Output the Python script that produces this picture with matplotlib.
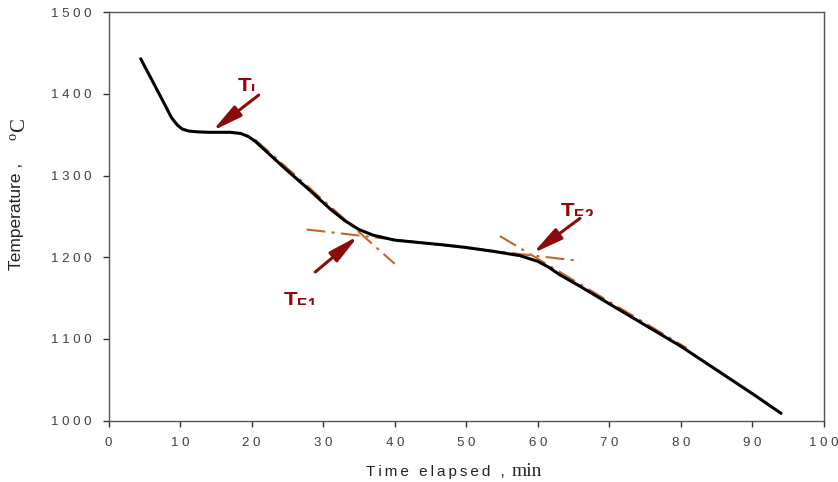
import matplotlib.pyplot as plt
from matplotlib.transforms import Bbox

plt.rcParams["mathtext.fontset"] = "custom"
plt.rcParams["mathtext.bf"] = "Liberation Sans:bold"
plt.rcParams["mathtext.rm"] = "Liberation Serif"

# cooling curve
time_min = [4.5, 6, 7.5, 8.8, 9.6, 10.3, 11.2, 12.5, 14, 17, 18.5, 19.5, 20.5, 22,
            25, 28, 31, 33, 35, 37, 40, 43.5, 47, 50, 54, 57.5, 60, 61.5, 63,
            66, 70, 75, 80, 85, 90, 94]
temp_c = [1443, 1418, 1393, 1371, 1362, 1357, 1354.5, 1353.5, 1353, 1353, 1351.5, 1348, 1342, 1330,
          1306, 1283, 1259, 1245, 1234, 1227, 1221, 1218, 1215, 1212, 1207, 1202, 1195, 1188, 1179,
          1164, 1143, 1117, 1091, 1062, 1033, 1009]

# tangent construction lines (start/end points)
plateau_x = [27.7, 65.9]
plateau_y = [1234, 1195.5]
steep1_x = [20.5, 40]
steep1_y = [1344, 1192]
steep2_x = [54.7, 80.8]
steep2_y = [1226, 1089]

xticks = list(range(0, 101, 10))
yticks = list(range(1000, 1501, 100))

line_col = "#c4662c"
arrow_col = "#8b0a0a"
tick_col = "#404040"

fig = plt.figure(figsize=(8.38, 4.82), dpi=100)
ax = fig.add_axes([0.1295, 0.1272, 0.8538, 0.8475])

dash = (0, (9, 3, 1.5, 3))
ax.plot(plateau_x, plateau_y, color=line_col, lw=1.5, linestyle=dash)
ax.plot(steep1_x, steep1_y, color=line_col, lw=1.5, linestyle=dash)
ax.plot(steep2_x, steep2_y, color=line_col, lw=1.5, linestyle=dash)
ax.plot(time_min, temp_c, color="black", lw=2.2, solid_capstyle="round")

ax.set_xlim(0, 100)
ax.set_ylim(1000, 1500)
ax.set_xticks(xticks)
ax.set_yticks(yticks)
ax.set_xticklabels([" ".join(str(v)) for v in xticks], family="Liberation Sans")
ax.set_yticklabels([" ".join(str(v)) for v in yticks], family="Liberation Sans")
ax.tick_params(direction="out", length=4.5, width=1, labelsize=9.5,
               labelcolor=tick_col, color="#333333")
ax.tick_params(axis="y", pad=8)
ax.tick_params(axis="x", pad=7)
for sp in ax.spines.values():
    sp.set_color("#555555")
    sp.set_linewidth(1)

# arrows and labels
arrows = [((21.0, 1398.6), (14.5, 1354.6)),
          ((28.9, 1182), (34.9, 1226)),
          ((65.9, 1247.7), (59.3, 1204.9))]
for start, tip in arrows:
    ax.annotate("", xy=tip, xytext=start,
                arrowprops=dict(arrowstyle="-|>,head_length=1.8,head_width=0.38",
                                color=arrow_col, lw=2.2, shrinkA=0, shrinkB=0))

labels = [(18.0, 1401, "L"), (24.4, 1139, "E1"), (63.1, 1248, "E2")]
for lx, ly, sub in labels:
    t = ax.text(lx, ly, r"$\mathbf{T}_{\mathbf{" + sub + "}}$", color=arrow_col,
                fontsize=16, ha="left", va="baseline", clip_on=False)
    # the subscripts are cut off in the source figure
    px, py = ax.transData.transform((lx, ly))
    t.set_clip_box(Bbox([[px - 10, py + 2.5], [px + 60, py + 60]]))
    t.set_clip_on(True)

# axis labels with mixed fonts
ts = "\u2009"
fig.text(505 / 838, 1 - 476 / 482, ts.join("Time elapsed ,"), fontsize=11,
         family=["Liberation Sans", "DejaVu Sans"], ha="right", va="baseline",
         color="#222222")
fig.text(512 / 838, 1 - 476 / 482, "min", fontsize=14, family="Liberation Serif",
         ha="left", va="baseline", color="#222222")
fig.text(16 / 838, 1 - 216 / 482, "Temperature ,", fontsize=12.5,
         family="Liberation Sans", rotation=90, ha="center", va="center",
         color="#222222")
fig.text(21 / 838, 1 - 130 / 482, r"$^{\mathrm{o}}$C", fontsize=15,
         family="Liberation Serif", rotation=90, ha="center", va="center",
         color="#222222")

fig.savefig("out.png", dpi=100)
